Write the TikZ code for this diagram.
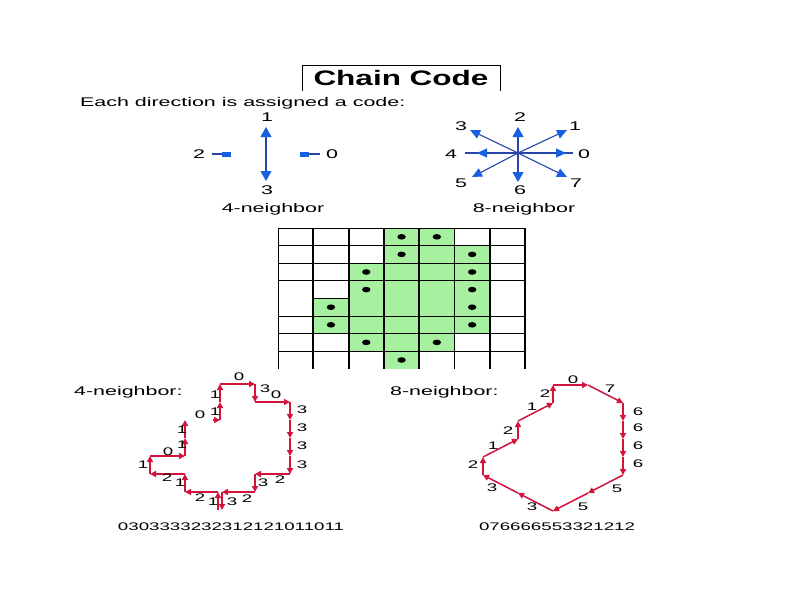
\documentclass[tikz,border=0pt]{standalone}
\usepackage{fontspec}
\setmainfont[FakeStretch=1.7]{Liberation Sans}
\newfontfamily\titlefont[FakeStretch=1.5]{Liberation Sans}
\usetikzlibrary{arrows.meta}
\definecolor{dblue}{RGB}{40,70,170}
\definecolor{tblue}{RGB}{25,95,225}
\definecolor{crim}{RGB}{210,20,60}
\definecolor{pgreen}{RGB}{166,240,160}
\tikzset{
  txt/.style={inner sep=0pt, font=\fontsize{12.6}{14}\selectfont},
  lbl/.style={inner sep=0pt, font=\fontsize{11}{13}\selectfont},
  blu/.style={draw=dblue, line width=1.1pt},
  bigtip/.style={blu, -{Triangle[length=10pt,width=11pt,color=tblue]}},
  diagtip/.style={blu, -{Triangle[length=10pt,width=9pt,color=tblue]}},
  blocktip/.style={blu, line width=1.3pt, -{Rectangle[length=9pt,width=5pt,color=tblue]}},
  redarrow/.style={draw=crim, line width=1.5pt, -{Triangle[length=6pt,width=6pt]}},
  gridv/.style={draw=black, line width=1.8pt},
  gridh/.style={draw=black, line width=0.8pt},
}
\begin{document}
\begin{tikzpicture}[x=1pt,y=-1pt]
\useasboundingbox (0,0) rectangle (794,595);
\fill[white] (0,0) rectangle (794,595);

% title
\draw[line width=1pt] (302,91) -- (302,65) -- (500,65) -- (500,91);
\node[inner sep=0pt, anchor=base, font=\titlefont\bfseries\fontsize{21}{24}\selectfont] (title) at (401,85) {Chain Code};
\node[txt, anchor=base west] (intro) at (80,106) {Each direction is assigned a code:};

% 4-neighbour directions
\coordinate (c4) at (266,154);
\coordinate (c4u) at (266,127);
\coordinate (c4d) at (266,181);
\coordinate (c4la) at (212,154);
\coordinate (c4lb) at (231,154);
\coordinate (c4ra) at (320,154);
\coordinate (c4rb) at (300,154);
\draw[bigtip] (c4) -- (c4u);
\draw[bigtip] (c4) -- (c4d);
\draw[blocktip] (c4la) -- (c4lb);
\draw[blocktip] (c4ra) -- (c4rb);
\node[txt] (d41) at (267,117) {1};
\node[txt] (d43) at (267,190) {3};
\node[txt] (d42) at (199,154) {2};
\node[txt] (d40) at (332,154) {0};
\node[txt, anchor=base] (n4) at (273,212) {4-neighbor};

% 8-neighbour directions
\coordinate (c8) at (518,153);
\coordinate (e0) at (573,153);
\coordinate (h0) at (566,153);
\coordinate (e4) at (465,153);
\coordinate (h4) at (477,153);
\coordinate (e2) at (518,127);
\coordinate (e6) at (518,182);
\coordinate (e1) at (567,130);
\coordinate (e3) at (470,130);
\coordinate (e5) at (472,177);
\coordinate (e7) at (567,177);
\draw[blu] (c8) -- (e0);
\draw[blu] (c8) -- (e4);
\draw[diagtip] (c8) -- (h0);
\draw[diagtip] (c8) -- (h4);
\draw[bigtip] (c8) -- (e2);
\draw[bigtip] (c8) -- (e6);
\draw[diagtip] (c8) -- (e1);
\draw[diagtip] (c8) -- (e3);
\draw[diagtip] (c8) -- (e5);
\draw[diagtip] (c8) -- (e7);
\node[txt] (d80) at (584,154) {0};
\node[txt] (d81) at (575,126) {1};
\node[txt] (d82) at (520,117) {2};
\node[txt] (d83) at (461,126) {3};
\node[txt] (d84) at (451,154) {4};
\node[txt] (d85) at (461,183) {5};
\node[txt] (d86) at (520,190) {6};
\node[txt] (d87) at (576,183) {7};
\node[txt, anchor=base] (n8) at (524,212) {8-neighbor};

% grid
\foreach \c/\r in {3/0,4/0,3/1,4/1,5/1,2/2,3/2,4/2,5/2,2/3,3/3,4/3,5/3,1/4,2/4,3/4,4/4,5/4,1/5,2/5,3/5,4/5,5/5,2/6,3/6,4/6,3/7}
  \fill[pgreen] ({278+35.3*\c},{228+17.6*\r}) rectangle ++(35.3,17.6);
\foreach \r in {0,1,2,3,5,6,7}
  \draw[gridh] (278,{228+17.6*\r}) -- (525.1,{228+17.6*\r});
\draw[gridh] (313.3,298.4) -- (348.6,298.4);
\draw[draw=black, line width=0.4pt] (278,228) -- (278,368.8);
\foreach \k in {1,...,7}
  \draw[gridv] ({278+35.3*\k},228) -- ({278+35.3*\k},368.8);
\foreach \c/\r in {3/0,4/0,3/1,5/1,2/2,5/2,2/3,5/3,1/4,5/4,1/5,5/5,2/6,4/6,3/7}
  \fill ({278+35.3*(\c+0.5)},{228+17.6*(\r+0.5)}) ellipse [x radius=4.2pt, y radius=2.8pt];

% chain coordinates
\foreach \c in {1,...,5}
  \foreach \r in {0,...,7} {
    \coordinate (a\c\r) at ({150+35*(\c-1)},{384+18*\r});
    \coordinate (b\c\r) at ({483+35*(\c-1)},{385+18*\r});
  }

\node[txt, anchor=base west] (l4) at (74,395) {4-neighbor:};
\node[txt, anchor=base west] (l8) at (390,395) {8-neighbor:};

% 4-neighbour chain
\draw[redarrow] (a30) -- (a40);
\draw[redarrow] (a40) -- (a41);
\draw[redarrow] (a41) -- (a51);
\draw[redarrow] (a51) -- (a52);
\draw[redarrow] (a52) -- (a53);
\draw[redarrow] (a53) -- (a54);
\draw[redarrow] (a54) -- (a55);
\draw[redarrow] (a55) -- (a45);
\draw[redarrow] (a45) -- (a46);
\draw[redarrow] (a46) -- ([xshift=2pt]a36);
\draw[redarrow] ([xshift=2pt]a36) -- ([xshift=2pt]a37);
\draw[redarrow] ([xshift=-2pt]a37) -- ([xshift=-2pt]a36);
\draw[redarrow] ([xshift=-2pt]a36) -- (a26);
\draw[redarrow] (a26) -- (a25);
\draw[redarrow] (a25) -- (a15);
\draw[redarrow] (a15) -- (a14);
\draw[redarrow] (a14) -- (a24);
\draw[redarrow] (a24) -- (a23);
\draw[redarrow] (a23) -- (a22);
\draw[redarrow] ([xshift=-7pt]a32) -- (a32);
\draw[redarrow] (a32) -- (a31);
\draw[redarrow] (a31) -- (a30);

\node[lbl] (q1) at (239,377) {0};
\node[lbl] (q2) at (265,389) {3};
\node[lbl] (q3) at (276,395) {0};
\node[lbl] (q4) at (302,410) {3};
\node[lbl] (q5) at (302,428) {3};
\node[lbl] (q6) at (302,446) {3};
\node[lbl] (q7) at (302,465) {3};
\node[lbl] (q8) at (280,480) {2};
\node[lbl] (q9) at (263,483) {3};
\node[lbl] (q10) at (247,499) {2};
\node[lbl] (q11) at (232,502) {3};
\node[lbl] (q12) at (213,502) {1};
\node[lbl] (q13) at (200,498) {2};
\node[lbl] (q14) at (180,483) {1};
\node[lbl] (q15) at (167,478) {2};
\node[lbl] (q16) at (143,465) {1};
\node[lbl] (q17) at (168,452) {0};
\node[lbl] (q18) at (182,445) {1};
\node[lbl] (q19) at (182,430) {1};
\node[lbl] (q20) at (200,415) {0};
\node[lbl] (q21) at (215,412) {1};
\node[lbl] (q22) at (215,395) {1};

% 8-neighbour chain
\draw[redarrow] (b30) -- (b40);
\draw[redarrow] (b40) -- (b51);
\draw[redarrow] (b51) -- (b52);
\draw[redarrow] (b52) -- (b53);
\draw[redarrow] (b53) -- (b54);
\draw[redarrow] (b54) -- (b55);
\draw[redarrow] (b55) -- (b46);
\draw[redarrow] (b46) -- (b37);
\draw[redarrow] (b37) -- (b26);
\draw[redarrow] (b26) -- (b15);
\draw[redarrow] (b15) -- (b14);
\draw[redarrow] (b14) -- (b23);
\draw[redarrow] (b23) -- (b22);
\draw[redarrow] (b22) -- (b31);
\draw[redarrow] (b31) -- (b30);

\node[lbl] (r1) at (573,380) {0};
\node[lbl] (r2) at (610,389) {7};
\node[lbl] (r3) at (638,412) {6};
\node[lbl] (r4) at (638,428) {6};
\node[lbl] (r5) at (638,446) {6};
\node[lbl] (r6) at (638,464) {6};
\node[lbl] (r7) at (617,489) {5};
\node[lbl] (r8) at (583,507) {5};
\node[lbl] (r9) at (532,507) {3};
\node[lbl] (r10) at (492,488) {3};
\node[lbl] (r11) at (473,465) {2};
\node[lbl] (r12) at (493,446) {1};
\node[lbl] (r13) at (508,431) {2};
\node[lbl] (r14) at (532,407) {1};
\node[lbl] (r15) at (545,394) {2};

\node[lbl] (code4) at (231,527) {0303333232312121011011};
\node[lbl] (code8) at (557,527) {076666553321212};
\end{tikzpicture}
\end{document}
